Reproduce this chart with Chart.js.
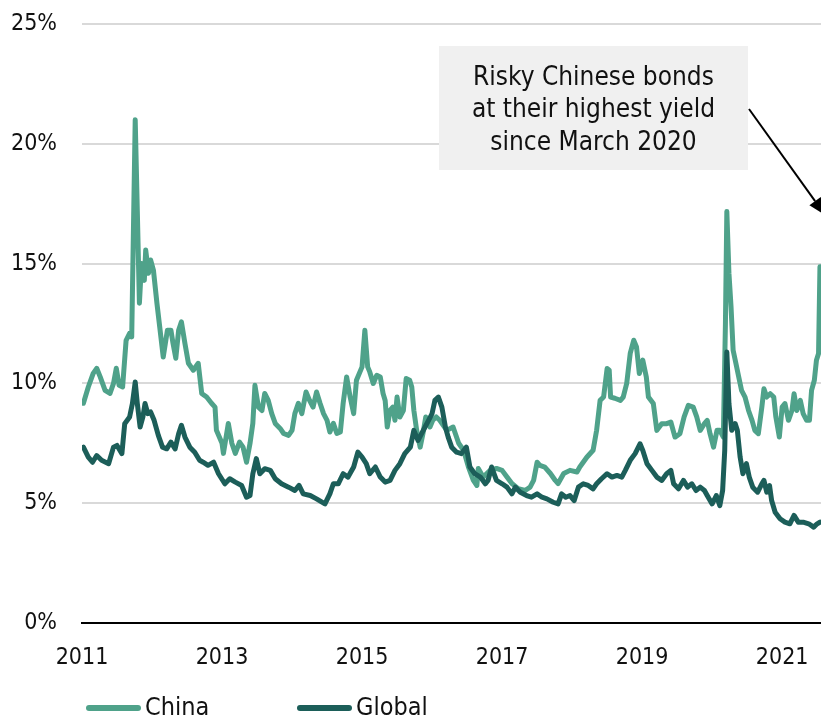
<!DOCTYPE html>
<html>
<head>
<meta charset="utf-8">
<script src="https://cdn.jsdelivr.net/npm/chart.js@4.4.1/dist/chart.umd.min.js"></script>
<style>
  html, body { margin: 0; padding: 0; background: #ffffff; }
  #wrap { width: 821px; height: 719px; position: relative; }
</style>
</head>
<body>
<div id="wrap"><canvas id="c"></canvas></div>
<script>
// High-yield bond yields (%), decimal-year dates
const chinaDates = [
  2011.02, 2011.09, 2011.16, 2011.21, 2011.26, 2011.33, 2011.40, 2011.45, 2011.49, 2011.53, 2011.58, 2011.63, 2011.68, 2011.71,
  2011.76, 2011.79, 2011.82, 2011.85, 2011.89, 2011.91, 2011.95, 2011.98,
  2012.02, 2012.07, 2012.11, 2012.16, 2012.22, 2012.27, 2012.30, 2012.34, 2012.38, 2012.42, 2012.47, 2012.52, 2012.59, 2012.66, 2012.71, 2012.78, 2012.85, 2012.90, 2012.92,
  2013.00, 2013.02, 2013.09, 2013.14, 2013.19, 2013.25, 2013.30, 2013.35, 2013.40, 2013.44, 2013.47, 2013.52, 2013.57, 2013.61, 2013.66, 2013.71, 2013.76, 2013.83, 2013.88, 2013.95,
  2014.00, 2014.04, 2014.09, 2014.14, 2014.20, 2014.25, 2014.30, 2014.35, 2014.40, 2014.45, 2014.50, 2014.54, 2014.59, 2014.64, 2014.69, 2014.73, 2014.78, 2014.83, 2014.88, 2014.92,
  2015.00, 2015.04, 2015.08, 2015.11, 2015.16, 2015.21, 2015.26, 2015.30, 2015.33, 2015.36, 2015.40, 2015.44, 2015.47, 2015.50, 2015.54, 2015.59, 2015.63, 2015.68, 2015.71, 2015.74, 2015.78, 2015.83, 2015.87, 2015.91, 2015.97,
  2016.01, 2016.06, 2016.11, 2016.21, 2016.30, 2016.38, 2016.45, 2016.52, 2016.59, 2016.64, 2016.66, 2016.73, 2016.83, 2016.92,
  2017.00, 2017.07, 2017.14, 2017.23, 2017.33, 2017.40, 2017.45, 2017.50, 2017.54, 2017.61, 2017.69, 2017.76, 2017.80, 2017.88, 2017.97,
  2018.07, 2018.11, 2018.21, 2018.30, 2018.35, 2018.40, 2018.45, 2018.50, 2018.53, 2018.55, 2018.61, 2018.69, 2018.73, 2018.78, 2018.83, 2018.88, 2018.92, 2018.96,
  2019.01, 2019.06, 2019.09, 2019.16, 2019.21, 2019.28, 2019.35, 2019.41, 2019.47, 2019.54, 2019.60, 2019.66, 2019.73, 2019.78, 2019.83, 2019.89, 2019.93, 2019.97,
  2020.02, 2020.07, 2020.11, 2020.16, 2020.19, 2020.21, 2020.24, 2020.27, 2020.30, 2020.34, 2020.38, 2020.42, 2020.47, 2020.52, 2020.57, 2020.61, 2020.66, 2020.71, 2020.74, 2020.78, 2020.83, 2020.88, 2020.91, 2020.96,
  2021.00, 2021.04, 2021.09, 2021.14, 2021.17, 2021.21, 2021.26, 2021.30, 2021.35, 2021.39, 2021.42, 2021.46, 2021.49, 2021.52, 2021.54
];
const chinaYield = [
  9.17, 9.85, 10.42, 10.63, 10.27, 9.71, 9.58, 10.0, 10.63, 9.92, 9.85, 11.8, 12.09, 11.94,
  21.0, 17.2, 13.35, 15.0, 14.3, 15.57, 14.6, 15.15,
  14.73, 13.35, 12.36, 11.1, 12.22, 12.22, 11.67, 11.05, 12.22, 12.57, 11.67, 10.84, 10.55, 10.84, 9.58, 9.43, 9.17, 9.01, 8.04,
  7.5, 7.08, 8.33, 7.5, 7.08, 7.55, 7.34, 6.71, 7.5, 8.33, 9.92, 9.01, 8.87, 9.58, 9.29, 8.74, 8.33, 8.12, 7.91, 7.83,
  8.04, 8.74, 9.17, 8.74, 9.64, 9.29, 9.01, 9.64, 9.17, 8.74, 8.46, 7.97, 8.33, 7.91, 7.97, 9.17, 10.27, 9.43, 8.74, 10.13,
  10.69, 12.22, 10.69, 10.48, 10.0, 10.34, 10.27, 9.58, 9.29, 8.18, 8.87, 9.01, 8.46, 9.43, 8.6, 8.87, 10.2, 10.13, 9.85, 8.87, 8.04, 7.34, 7.91, 8.6, 8.18,
  8.46, 8.6, 8.46, 8.04, 8.18, 7.5, 7.21, 6.51, 5.95, 5.74, 6.45, 6.09, 6.37, 6.45,
  6.37, 6.09, 5.82, 5.61, 5.53, 5.67, 5.95, 6.71, 6.58, 6.51, 6.24, 5.95, 5.82, 6.24, 6.37,
  6.3, 6.51, 6.92, 7.21, 8.04, 9.29, 9.43, 10.62, 10.55, 9.43, 9.38, 9.29, 9.43, 10.0, 11.25, 11.8, 11.52, 10.41,
  10.97, 10.27, 9.43, 9.16, 8.04, 8.32, 8.32, 8.39, 7.76, 7.9, 8.6, 9.08, 9.01, 8.6, 8.04, 8.32, 8.46, 7.9,
  7.34, 8.04, 8.04, 7.76, 12.5, 17.17, 14.6, 13.2, 11.38, 10.83, 10.27, 9.71, 9.43, 8.87, 8.46, 8.04, 7.9, 9.01, 9.78, 9.43, 9.57, 9.43, 8.6, 7.76,
  9.01, 9.16, 8.46, 8.87, 9.57, 8.87, 9.29, 8.74, 8.46, 8.46, 9.71, 10.13, 10.97, 11.25, 14.87
];

const globalDates = [
  2011.02, 2011.09, 2011.15, 2011.21, 2011.28, 2011.38, 2011.45, 2011.50, 2011.57, 2011.61, 2011.68, 2011.72, 2011.76, 2011.79, 2011.83, 2011.87, 2011.90, 2011.94, 2011.98,
  2012.03, 2012.09, 2012.15, 2012.21, 2012.27, 2012.33, 2012.38, 2012.42, 2012.47, 2012.54, 2012.61, 2012.68, 2012.73, 2012.80, 2012.88, 2012.95,
  2013.04, 2013.11, 2013.19, 2013.28, 2013.35, 2013.40, 2013.44, 2013.49, 2013.54, 2013.61, 2013.69, 2013.76, 2013.85, 2013.95,
  2014.04, 2014.10, 2014.16, 2014.26, 2014.35, 2014.47, 2014.54, 2014.59, 2014.66, 2014.73, 2014.80, 2014.88, 2014.94,
  2015.00, 2015.06, 2015.11, 2015.19, 2015.26, 2015.33, 2015.40, 2015.47, 2015.54, 2015.61, 2015.69, 2015.74, 2015.80, 2015.85, 2015.90, 2015.95,
  2016.00, 2016.04, 2016.09, 2016.14, 2016.19, 2016.23, 2016.28, 2016.35, 2016.42, 2016.49, 2016.54, 2016.61, 2016.69, 2016.76, 2016.80, 2016.85, 2016.92,
  2017.00, 2017.07, 2017.14, 2017.19, 2017.26, 2017.35, 2017.42, 2017.50, 2017.57, 2017.64, 2017.73, 2017.80, 2017.85, 2017.91, 2017.97,
  2018.03, 2018.09, 2018.16, 2018.23, 2018.30, 2018.35, 2018.42, 2018.50, 2018.57, 2018.64, 2018.71, 2018.76, 2018.83, 2018.90, 2018.97,
  2019.01, 2019.07, 2019.14, 2019.21, 2019.28, 2019.35, 2019.41, 2019.45, 2019.52, 2019.59, 2019.65, 2019.71, 2019.77, 2019.83, 2019.89, 2019.93,
  2020.00, 2020.06, 2020.11, 2020.15, 2020.18, 2020.21, 2020.24, 2020.28, 2020.33, 2020.36, 2020.40, 2020.44, 2020.49, 2020.53, 2020.58, 2020.65, 2020.71, 2020.74, 2020.78, 2020.82, 2020.85, 2020.90, 2020.97,
  2021.04, 2021.11, 2021.17, 2021.23, 2021.30, 2021.38, 2021.45, 2021.50, 2021.54
];
const globalYield = [
  7.34, 6.92, 6.71, 6.99, 6.79, 6.65, 7.34, 7.41, 7.07, 8.32, 8.6, 9.16, 10.06, 9.16, 8.18, 8.6, 9.16, 8.74, 8.81,
  8.46, 7.83, 7.34, 7.27, 7.55, 7.27, 7.9, 8.25, 7.76, 7.34, 7.13, 6.79, 6.71, 6.58, 6.71, 6.23,
  5.81, 6.02, 5.88, 5.74, 5.25, 5.32, 6.23, 6.86, 6.23, 6.44, 6.37, 6.02, 5.81, 5.67,
  5.53, 5.74, 5.39, 5.32, 5.18, 4.97, 5.39, 5.81, 5.81, 6.23, 6.09, 6.51, 7.13,
  6.92, 6.65, 6.23, 6.51, 6.09, 5.88, 5.95, 6.37, 6.65, 7.07, 7.34, 8.04, 7.62, 7.9, 8.18, 8.46,
  8.74, 9.29, 9.43, 9.01, 8.18, 7.76, 7.34, 7.13, 7.07, 7.34, 6.51, 6.23, 6.09, 5.81, 5.95, 6.51, 5.95,
  5.81, 5.67, 5.39, 5.67, 5.46, 5.32, 5.25, 5.39, 5.25, 5.18, 5.04, 4.97, 5.39, 5.25, 5.32,
  5.11, 5.67, 5.81, 5.74, 5.6, 5.81, 6.02, 6.23, 6.09, 6.16, 6.09, 6.37, 6.79, 7.07, 7.48,
  7.2, 6.65, 6.37, 6.09, 5.95, 6.23, 6.37, 5.81, 5.6, 5.95, 5.67, 5.81, 5.53, 5.67, 5.53, 5.32,
  4.97, 5.32, 4.9, 5.53, 7.2, 11.31, 9.16, 8.04, 8.32, 8.04, 6.92, 6.23, 6.65, 6.09, 5.67, 5.46, 5.81, 5.95, 5.46, 5.74, 5.11, 4.62, 4.35,
  4.21, 4.14, 4.49, 4.21, 4.21, 4.14, 4.0, 4.14, 4.21
];

const seriesNames = ['China', 'Global'];
const xTickYears = [2011, 2013, 2015, 2017, 2019, 2021];
const yTickValues = [0, 5, 10, 15, 20, 25];
const noteLines = ['Risky Chinese bonds', 'at their highest yield', 'since March 2020'];

const FONT = "'DejaVu Sans Condensed', 'DejaVu Sans', sans-serif";
const TEXT = '#111111';

const toPoints = (xs, ys) => xs.map((x, i) => ({ x: x, y: ys[i] }));

// Grey call-out box with an arrow pointing at the latest China reading
const notePlugin = {
  id: 'note',
  beforeDatasetsDraw(chart) {
    const c = chart.ctx;
    const bx = 439, by = 46, bw = 309, bh = 124;
    c.save();
    c.fillStyle = '#f0f0f0';
    c.fillRect(bx, by, bw, bh);
    c.fillStyle = TEXT;
    c.font = '26px ' + FONT;
    c.textAlign = 'center';
    c.textBaseline = 'middle';
    noteLines.forEach((t, i) => c.fillText(t, bx + bw / 2, 78 + i * 32.5));

    const x0 = 749, y0 = 109, x1 = 825, y1 = 215;
    const ang = Math.atan2(y1 - y0, x1 - x0);
    const head = 17, half = 7;
    const bxh = x1 - head * Math.cos(ang), byh = y1 - head * Math.sin(ang);
    c.strokeStyle = '#000';
    c.lineWidth = 2;
    c.beginPath();
    c.moveTo(x0, y0);
    c.lineTo(bxh, byh);
    c.stroke();
    c.fillStyle = '#000';
    c.beginPath();
    c.moveTo(x1, y1);
    c.lineTo(bxh + half * Math.sin(ang), byh - half * Math.cos(ang));
    c.lineTo(bxh - half * Math.sin(ang), byh + half * Math.cos(ang));
    c.closePath();
    c.fill();
    c.restore();
  }
};

// Series key drawn under the axis
const keyPlugin = {
  id: 'seriesKey',
  afterDraw(chart) {
    const c = chart.ctx;
    const keyX = [86, 297];
    const y = 708;
    c.save();
    chart.data.datasets.forEach((ds, i) => {
      const x = keyX[i];
      c.strokeStyle = ds.borderColor;
      c.lineWidth = 6;
      c.lineCap = 'round';
      c.beginPath();
      c.moveTo(x + 3, y);
      c.lineTo(x + 52, y);
      c.stroke();
      c.fillStyle = TEXT;
      c.font = '25px ' + FONT;
      c.textAlign = 'left';
      c.textBaseline = 'middle';
      c.fillText(ds.label, x + 59, y);
    });
    c.restore();
  }
};

new Chart(document.getElementById('c'), {
  type: 'line',
  data: {
    datasets: [
      {
        label: seriesNames[0],
        data: toPoints(chinaDates, chinaYield),
        borderColor: '#4fa28a',
        backgroundColor: '#4fa28a',
        borderWidth: 5,
        pointRadius: 0,
        tension: 0,
        borderJoinStyle: 'round',
        borderCapStyle: 'round',
        order: 1
      },
      {
        label: seriesNames[1],
        data: toPoints(globalDates, globalYield),
        borderColor: '#1c5e59',
        backgroundColor: '#1c5e59',
        borderWidth: 5,
        pointRadius: 0,
        tension: 0,
        borderJoinStyle: 'round',
        borderCapStyle: 'round',
        order: 0
      }
    ]
  },
  options: {
    responsive: true,
    maintainAspectRatio: false,
    animation: false,
    layout: { padding: { top: 24, left: 0, right: 0, bottom: 0 } },
    plugins: { legend: { display: false }, tooltip: { enabled: false } },
    scales: {
      x: {
        type: 'linear',
        min: 2011,
        max: 2021.555,
        afterBuildTicks: s => { s.ticks = xTickYears.map(v => ({ value: v })); },
        afterFit: s => { s.height = 96; s.paddingLeft = 0; s.paddingRight = 0; },
        grid: { display: false },
        border: { display: true, color: '#000000', width: 2 },
        ticks: {
          padding: 13,
          color: TEXT,
          font: { family: FONT, size: 23 },
          maxRotation: 0,
          autoSkip: false,
          callback: v => String(v)
        }
      },
      y: {
        min: 0,
        max: 25,
        afterBuildTicks: s => { s.ticks = yTickValues.map(v => ({ value: v })); },
        afterFit: s => { s.width = 82; s.paddingTop = 0; s.paddingBottom = 0; },
        grid: {
          color: ctx => (ctx.tick && ctx.tick.value === 0) ? 'rgba(0,0,0,0)' : '#d9d9d9',
          lineWidth: 2,
          drawTicks: false
        },
        border: { display: false },
        ticks: {
          padding: 25,
          color: TEXT,
          font: { family: FONT, size: 23 },
          callback: v => v + '%'
        }
      }
    }
  },
  plugins: [notePlugin, keyPlugin]
});
</script>
</body>
</html>
